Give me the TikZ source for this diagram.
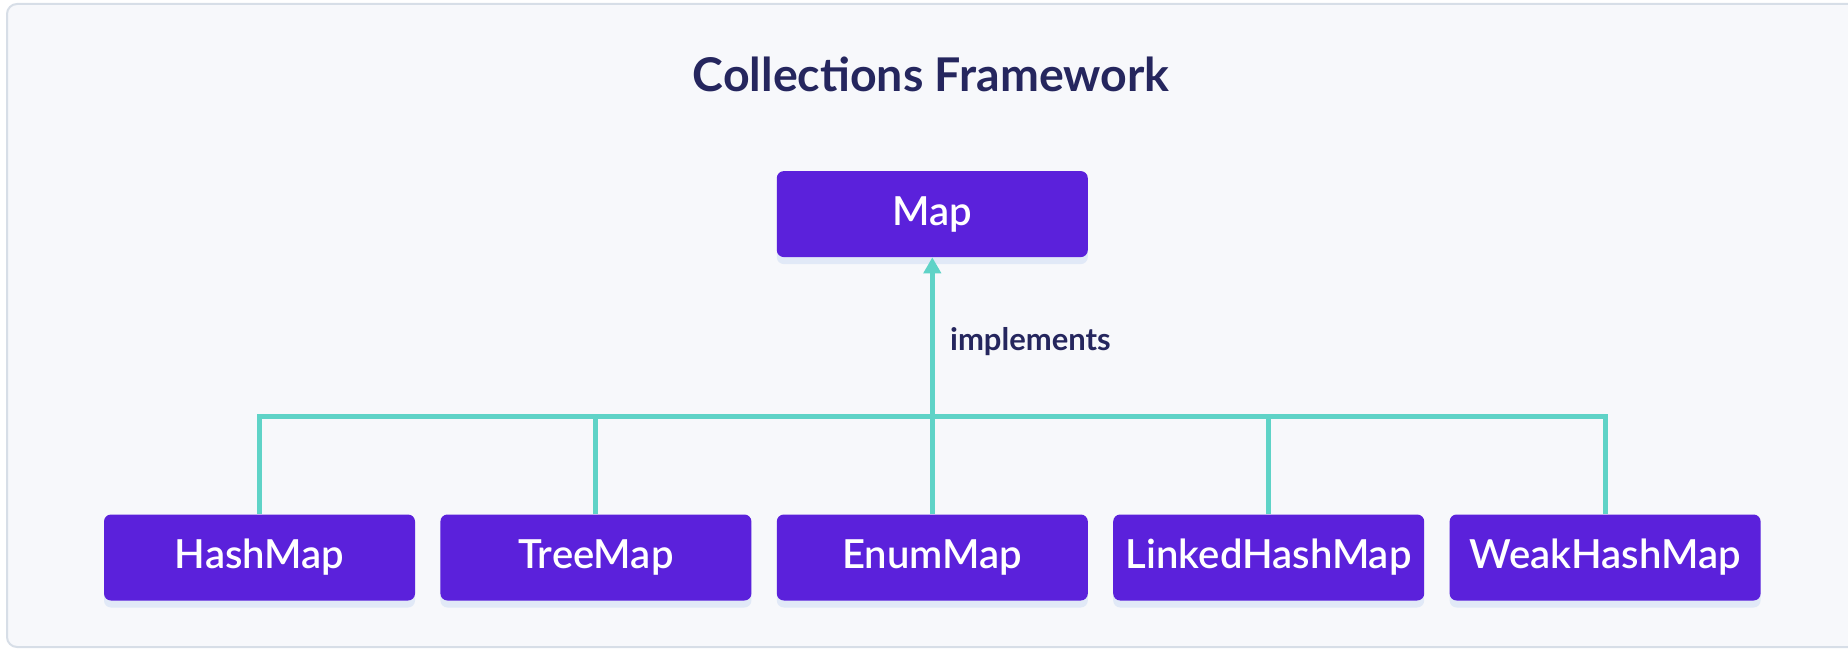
\documentclass[tikz,border=0pt]{standalone}
\usepackage{fontspec}
\setmainfont{Lato}
\newfontfamily\labelfont{Lato Semibold}
\usepackage{xcolor}
\usetikzlibrary{positioning,arrows.meta,shadows}

\definecolor{boxviolet}{HTML}{5B21DB}
\definecolor{linkteal}{HTML}{5FD3C7}
\definecolor{titlenavy}{HTML}{25265E}
\definecolor{pagebg}{HTML}{F7F8FB}
\definecolor{framegray}{HTML}{D7DEE7}
\definecolor{shadowblue}{HTML}{DCE6F7}

\begin{document}
\begin{tikzpicture}[
        x=1pt, y=-1pt,
        node distance = 25pt,
        mapbox/.style = {rectangle, rounded corners=7pt, fill=boxviolet,
            text=white, minimum width=311pt, minimum height=86pt,
            inner sep=0pt, font=\labelfont\fontsize{40}{46}\selectfont,
            drop shadow={shadow xshift=0pt, shadow yshift=-7pt,
                fill=shadowblue, opacity=0.8}},
        link/.style = {draw=linkteal, line width=5pt}]
        % FRAME
        \useasboundingbox (0,0) rectangle (1848,650);
        \clip (0,0) rectangle (1848,650);
        \draw[framegray, line width=2pt, fill=pagebg, rounded corners=10pt]
            (7,4) rectangle (1870,647);

        % NODES
        % title
        \node[text=titlenavy, font=\fontsize{46.5}{52}\selectfont\bfseries] (title) at (931,74) {Collections Framework};
        % bottom row
        \node[mapbox] (hashmap) at (259.5,557.5) {HashMap};
        \node[mapbox, right = of hashmap] (treemap) {TreeMap};
        \node[mapbox, right = of treemap] (enummap) {EnumMap};
        \node[mapbox, right = of enummap] (linkedhashmap) {LinkedHashMap};
        \node[mapbox, right = of linkedhashmap] (weakhashmap) {WeakHashMap};
        % interface
        \node[mapbox, above = 257pt of enummap] (map) {Map};
        % bus
        \coordinate[above = 98pt of enummap.north] (bus);

        % ARROWS
        \draw[link] (hashmap.north) -- (hashmap.north |- bus) -- (weakhashmap.north |- bus) -- (weakhashmap.north);
        \draw[link] (treemap.north) -- (treemap.north |- bus);
        \draw[link] (linkedhashmap.north) -- (linkedhashmap.north |- bus);
        \draw[link, -{Triangle[width=17pt,length=16pt]}] (enummap.north) -- node[pos=0.673, right=12pt, text=titlenavy, font=\fontsize{31}{36}\selectfont\bfseries] (impl) {implements} (map.south);
    \end{tikzpicture}
\end{document}
